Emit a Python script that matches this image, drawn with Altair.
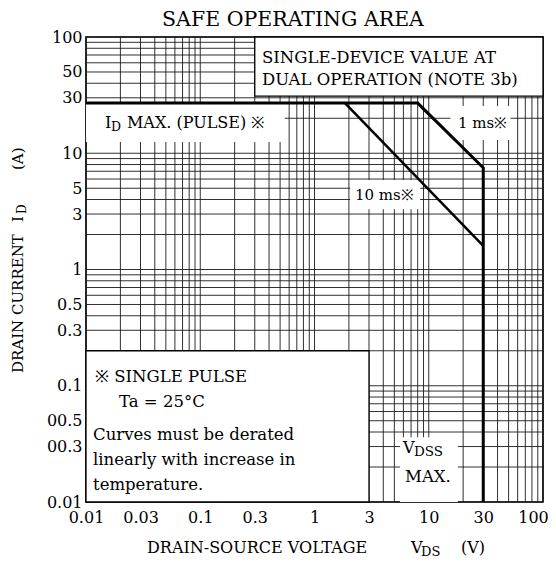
import altair as alt
import pandas as pd

FONT = "DejaVu Serif"

# ---- data ----
decades = [0.01, 0.1, 1, 10]
mults = [1, 2, 3, 4, 5, 6, 7, 8, 9]
grid_vals = [round(d * m, 6) for d in decades for m in mults] + [100]

x_ticks = [0.01, 0.03, 0.1, 0.3, 1, 3, 10, 30, 100]
y_ticks = [0.01, 0.03, 0.05, 0.1, 0.3, 0.5, 1, 3, 5, 10, 30, 50, 100]

# I_D max (pulse) / 1 ms / VDSS max boundary
soa_v = [0.01, 8.0, 30.0, 30.0]
soa_i = [27.0, 27.0, 7.5, 0.01]
# 10 ms line
ms10_v = [1.85, 30.0]
ms10_i = [27.0, 1.6]

# blank (white) areas of the grid
box_x1 = [0.3, 0.01, 0.01, 15.5, 2.05, 5.6]
box_x2 = [100, 3, 0.55, 52, 8.4, 18]
box_y1 = [31, 0.01, 12.5, 13, 3.3, 0.01]
box_y2 = [100, 0.2, 27, 25.5, 5.9, 0.036]
box_border = [1, 1, 0, 0, 0, 0]

xs = alt.Scale(type="log", domain=[0.01, 100], nice=False)
ys = alt.Scale(type="log", domain=[0.01, 100], nice=False)

XAX = alt.Axis(values=x_ticks, title="", ticks=False, grid=False, domain=False,
               format="~g", labelFont=FONT, labelFontSize=16,
               labelOffset={"condition": {"test": "datum.value == 100", "value": -10}, "value": 0},
               labelColor="black", labelPadding=7, labelFlush=False, labelOverlap=False)
YAX = alt.Axis(values=y_ticks, title="", ticks=False, grid=False, domain=False,
               labelExpr="datum.value == 0.05 ? '00.5' : (datum.value == 0.03 ? '00.3' : datum.label)",
               format="~g", labelFont=FONT, labelFontSize=16, labelColor="black",
               labelPadding=4, labelFlush=False, labelOverlap=False)

W, H = 457, 465

grid_df = pd.DataFrame({"g": grid_vals})
vgrid = alt.Chart(grid_df).mark_rule(color="#1a1a1a", strokeWidth=0.9).encode(
    x=alt.X("g:Q", scale=xs, axis=XAX))
hgrid = alt.Chart(grid_df).mark_rule(color="#1a1a1a", strokeWidth=0.9).encode(
    y=alt.Y("g:Q", scale=ys, axis=YAX))

box_df = pd.DataFrame({"x1": box_x1, "x2": box_x2, "y1": box_y1, "y2": box_y2, "b": box_border})
white = alt.Chart(box_df).mark_rect(color="white").encode(
    x=alt.X("x1:Q", scale=xs, axis=XAX), x2="x2:Q",
    y=alt.Y("y1:Q", scale=ys, axis=YAX), y2="y2:Q")
border = alt.Chart(box_df).transform_filter("datum.b == 1").mark_rect(
    fillOpacity=0, stroke="black", strokeWidth=1.3).encode(
    x=alt.X("x1:Q", scale=xs, axis=XAX), x2="x2:Q",
    y=alt.Y("y1:Q", scale=ys, axis=YAX), y2="y2:Q")

soa_df = pd.DataFrame({"x1": soa_v, "y1": soa_i, "o": list(range(len(soa_v)))})
soa = alt.Chart(soa_df).mark_line(color="black", strokeWidth=3, strokeJoin="miter").encode(
    x=alt.X("x1:Q", scale=xs, axis=XAX), y=alt.Y("y1:Q", scale=ys, axis=YAX), order="o:O")
ms10_df = pd.DataFrame({"x1": ms10_v, "y1": ms10_i, "o": list(range(len(ms10_v)))})
ms10 = alt.Chart(ms10_df).mark_line(color="black", strokeWidth=2.5).encode(
    x=alt.X("x1:Q", scale=xs, axis=XAX), y=alt.Y("y1:Q", scale=ys, axis=YAX), order="o:O")


def dtext(txt, v, i, size, dx=0, dy=0, align="left"):
    return alt.Chart(pd.DataFrame({"x1": [v], "y1": [i]})).mark_text(
        text=txt, align=align, baseline="middle", dx=dx, dy=dy,
        font=FONT, fontSize=size, color="black").encode(
        x=alt.X("x1:Q", scale=xs, axis=XAX), y=alt.Y("y1:Q", scale=ys, axis=YAX))


def ptext(txt, x, y, size, angle=0, align="left"):
    return alt.Chart(pd.DataFrame({"t": [txt]})).mark_text(
        text=txt, align=align, baseline="middle", angle=angle,
        font=FONT, fontSize=size, color="black").encode(
        x=alt.value(x), y=alt.value(y))


texts = [
    dtext("SINGLE-DEVICE VALUE AT", 0.347, 65.9, 16.5),
    dtext("DUAL OPERATION (NOTE 3b)", 0.347, 42.6, 16.5),
    dtext("I", 0.01466, 18.2, 16),
    dtext("D", 0.01466, 18.2, 12.5, dx=6, dy=4),
    dtext("MAX. (PULSE) \u203b", 0.01466, 18.2, 16, dx=22),
    dtext("1 ms\u203b", 18.0, 18.2, 15),
    dtext("10 ms\u203b", 2.26, 4.37, 15),
    dtext("\u203b SINGLE PULSE", 0.0120, 0.119, 16.5),
    dtext("Ta = 25\u00b0C", 0.01945, 0.0724, 16.5),
    dtext("Curves must be derated", 0.01152, 0.0377, 16.5),
    dtext("linearly with increase in", 0.01152, 0.023, 16.5),
    dtext("temperature.", 0.01152, 0.014, 16.5),
    dtext("V", 5.95, 0.0292, 16),
    dtext("DSS", 5.95, 0.0292, 13.5, dx=11, dy=4),
    dtext("MAX.", 6.2, 0.0164, 16.5),
    # chart title and axis titles
    ptext("SAFE OPERATING AREA", 207, -17, 20.5, align="center"),
    ptext("DRAIN CURRENT", -68.5, 336, 15, angle=270),
    ptext("I", -68.5, 185, 15, angle=270),
    ptext("D", -64.5, 177, 12, angle=270),
    ptext("(A)", -68.5, 133, 15, angle=270),
    ptext("DRAIN-SOURCE VOLTAGE", 61, 511, 16),
    ptext("V", 325, 511, 16),
    ptext("DS", 335, 515, 13),
    ptext("(V)", 375, 511, 16),
]

chart = alt.layer(vgrid, hgrid, white, border, ms10, soa, *texts).properties(
    width=W, height=H,
    autosize=alt.AutoSizeParams(type="none"),
    padding={"left": 78, "top": 29, "right": 5, "bottom": 60},
    background="white",
).configure_view(stroke="black", strokeWidth=1.6)

chart.save("out.html", embed_options={"renderer": "svg", "actions": False})
